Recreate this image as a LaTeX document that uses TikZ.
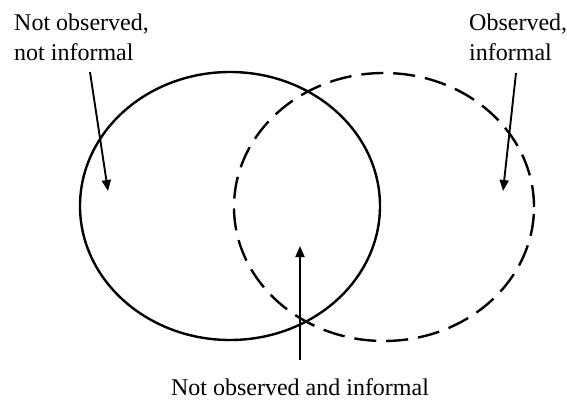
\documentclass[tikz,border=0pt]{standalone}
\usepackage{fontspec}
\setmainfont{Liberation Serif}
\usetikzlibrary{shapes.geometric,arrows.meta}
\begin{document}
\begin{tikzpicture}[x=1pt,y=-1pt,
  set/.style={draw, ellipse, line width=2.4pt, inner sep=0pt, minimum width=300pt, minimum height=268pt},
  label/.style={font=\fontsize{24}{30}\selectfont, inner sep=0pt, align=left},
  pointer/.style={line width=1.9pt, -{Triangle[length=11pt,width=9pt]}}]
\useasboundingbox (0,0) rectangle (567,399);
\node[set] (notobs) at (230,206) {};
\node[set, dash pattern=on 22pt off 10pt] (inf) at (384,207) {};
\node[label, anchor=north west] (t1) at (14,14) {Not observed,\\not informal};
\node[label, anchor=north west] (t2) at (469,14) {Observed,\\informal};
\node[label, anchor=base] (t3) at (300,395) {Not observed and informal};
\coordinate (s1) at (90,72);
\coordinate (e1) at (108,191);
\coordinate (s2) at (516,73);
\coordinate (e2) at (503,191);
\coordinate (s3) at (300,360);
\coordinate (e3) at (300,246);
\draw[pointer] (s1) -- (e1);
\draw[pointer] (s2) -- (e2);
\draw[pointer] (s3) -- (e3);
\end{tikzpicture}
\end{document}
